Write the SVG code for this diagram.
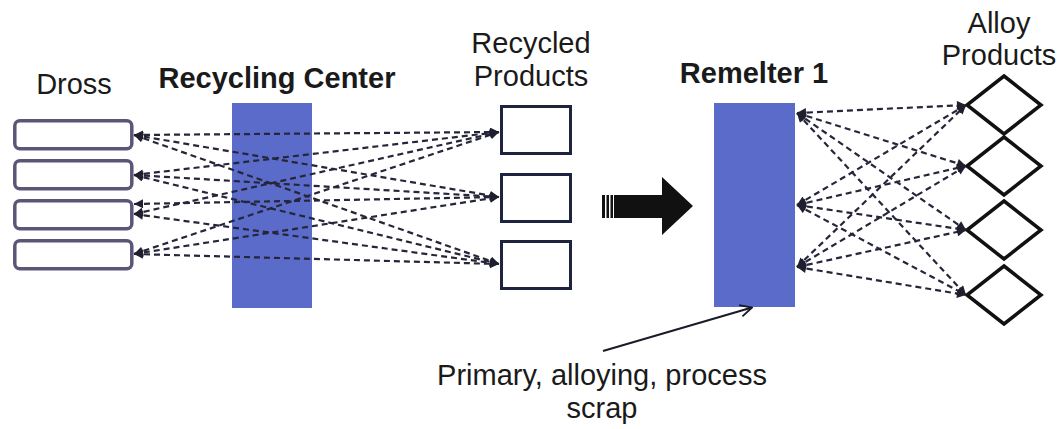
<svg xmlns="http://www.w3.org/2000/svg" width="1063" height="429" viewBox="0 0 1063 429">
<style>
text{font-family:"Liberation Sans",Arial,sans-serif;font-size:29px;fill:#1a1a1a;text-anchor:middle}
.b{font-weight:bold}
.dross{fill:#fff;stroke:#5b5677;stroke-width:3.5}
.rp{fill:#fff;stroke:#1e2340;stroke-width:3}
.blue{fill:#5a6bc9}
.dia{fill:#fff;stroke:#111;stroke-width:3.5;stroke-linejoin:miter}
.dl{fill:none;stroke:#26263a;stroke-width:2.2;stroke-dasharray:6 4}
</style>
<defs>
<marker id="ah" viewBox="0 0 10 10" refX="10" refY="5" markerWidth="10" markerHeight="9" markerUnits="userSpaceOnUse" orient="auto-start-reverse">
<path d="M0,0 L10,5 L0,10 z" fill="#1f1f2e"/>
</marker>
<marker id="open" viewBox="0 0 12 12" refX="11" refY="6" markerWidth="14" markerHeight="14" markerUnits="userSpaceOnUse" orient="auto">
<path d="M1,1 L11,6 L1,11" fill="none" stroke="#1a1a2a" stroke-width="1.6"/>
</marker>
</defs>

<g id="dross">
<text x="74" y="94">Dross</text>
<rect class="dross" x="14.8" y="120.8" width="117" height="28" rx="5"/>
<rect class="dross" x="14.8" y="160.8" width="117" height="28" rx="5"/>
<rect class="dross" x="14.8" y="200.8" width="117" height="28" rx="5"/>
<rect class="dross" x="14.8" y="240.8" width="117" height="28" rx="5"/>
</g>

<g id="recycling-center">
<text class="b" x="277" y="88">Recycling Center</text>
<rect class="blue" x="232" y="103" width="80" height="205"/>
</g>

<g id="recycled-products">
<text x="531" y="53">Recycled</text>
<text x="531" y="86">Products</text>
<rect class="rp" x="501.5" y="106.5" width="69" height="47"/>
<rect class="rp" x="501.5" y="174.5" width="69" height="47"/>
<rect class="rp" x="501.5" y="241.5" width="69" height="47"/>
</g>

<g id="big-arrow" fill="#111">
<rect x="602" y="195" width="3" height="23"/>
<rect x="606.5" y="195" width="2.5" height="23"/>
<rect x="610.5" y="195" width="2.5" height="23"/>
<path d="M614,195 L662,195 L662,177 L693,206 L662,235 L662,218 L614,218 z"/>
</g>

<g id="remelter">
<text class="b" x="754" y="83">Remelter 1</text>
<rect class="blue" x="714" y="103" width="81" height="204"/>
</g>

<g id="alloy-products">
<text x="999" y="33">Alloy</text>
<text x="999" y="65">Products</text>
<path class="dia" d="M1004,76 L1041,105 L1004,134 L967,105 z"/>
<path class="dia" d="M1004,137 L1041,166 L1004,195 L967,166 z"/>
<path class="dia" d="M1004,201 L1041,230 L1004,259 L967,230 z"/>
<path class="dia" d="M1004,266 L1041,295 L1004,324 L967,295 z"/>
</g>

<g id="scrap-label">
<text x="602" y="385">Primary, alloying, process</text>
<text x="602" y="418">scrap</text>
</g>

<g id="connectors" marker-start="url(#ah)" marker-end="url(#ah)">
<line class="dl" x1="134" y1="135" x2="499" y2="132"/>
<line class="dl" x1="134" y1="135" x2="499" y2="197"/>
<line class="dl" x1="134" y1="135" x2="499" y2="264"/>
<line class="dl" x1="134" y1="175" x2="499" y2="132"/>
<line class="dl" x1="134" y1="175" x2="499" y2="197"/>
<line class="dl" x1="134" y1="175" x2="499" y2="264"/>
<line class="dl" x1="134" y1="214" x2="499" y2="132"/>
<line class="dl" x1="134" y1="204" x2="499" y2="197"/>
<line class="dl" x1="134" y1="214" x2="499" y2="264"/>
<line class="dl" x1="134" y1="254" x2="499" y2="132"/>
<line class="dl" x1="134" y1="254" x2="499" y2="197"/>
<line class="dl" x1="134" y1="254" x2="499" y2="264"/>

<line class="dl" x1="797" y1="113" x2="966" y2="105"/>
<line class="dl" x1="797" y1="113" x2="966" y2="166"/>
<line class="dl" x1="797" y1="113" x2="966" y2="230"/>
<line class="dl" x1="797" y1="113" x2="966" y2="295"/>
<line class="dl" x1="797" y1="205" x2="966" y2="105"/>
<line class="dl" x1="797" y1="205" x2="966" y2="166"/>
<line class="dl" x1="797" y1="205" x2="966" y2="230"/>
<line class="dl" x1="797" y1="205" x2="966" y2="295"/>
<line class="dl" x1="797" y1="267" x2="966" y2="105"/>
<line class="dl" x1="797" y1="267" x2="966" y2="166"/>
<line class="dl" x1="797" y1="267" x2="966" y2="230"/>
<line class="dl" x1="797" y1="267" x2="966" y2="295"/>
</g>
<g id="pointer">
<line x1="603" y1="351" x2="752" y2="307.5" stroke="#1a1a2a" stroke-width="2" marker-end="url(#open)"/>
</g>
</svg>
